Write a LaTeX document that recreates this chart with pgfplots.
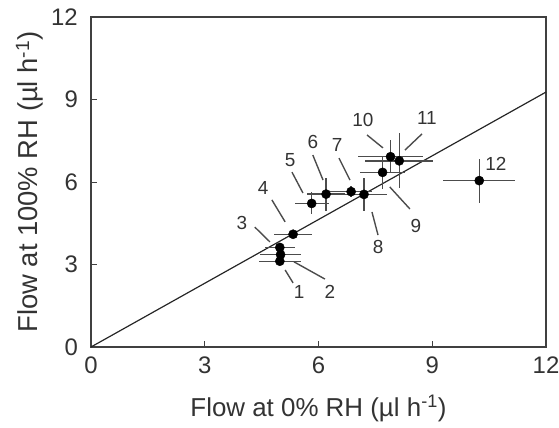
\documentclass[border=0pt]{standalone}
\usepackage{pgfplots}
\pgfplotsset{compat=1.18}
\usepackage{fontspec}
\setmainfont{Liberation Sans}

% Flow at 0% RH vs flow at 100% RH, with standard errors in both directions
\pgfplotstableread{
x     y     ex    ey
4.98  3.12  0.55  0.15
5.00  3.36  0.55  0.15
4.98  3.62  0.40  0.15
5.33  4.10  0.50  0.15
5.82  5.22  0.45  0.40
6.20  5.56  0.50  0.60
6.86  5.65  0.55  0.20
7.20  5.55  0.60  0.60
7.69  6.35  0.60  0.60
7.90  6.92  0.85  0.60
8.13  6.77  0.90  1.00
10.24 6.05  0.95  0.80
}\flowdata

\begin{document}
\begin{tikzpicture}
\begin{axis}[
  name=ax,
  scale only axis,
  width=455bp, height=330bp,
  xmin=0, xmax=12, ymin=0, ymax=12,
  xtick={0,3,...,12}, ytick={0,3,...,12},
  tick pos=left, tick align=inside,
  major tick length=6bp,
  axis line style={draw=black!75, line width=1.1pt},
  every tick/.style={draw=black!75, line width=1pt},
  /pgf/number format/assume math mode=true,
  ticklabel style={font=\fontsize{24}{28}\selectfont, text=black!80},
  xticklabel style={inner sep=0pt, anchor=north, yshift=-10bp},
  yticklabel style={inner sep=0pt, anchor=east, xshift=-13bp},
  xlabel={Flow at 0\% RH (µl h\textsuperscript{-1})},
  ylabel={Flow at 100\% RH (µl h\textsuperscript{-1})},
  xlabel style={font=\fontsize{26}{30}\selectfont, text=black!80,
    anchor=base, at={(axis description cs:0.5,0)}, yshift=-69bp},
  ylabel style={font=\fontsize{27.5}{30}\selectfont, text=black!80,
    anchor=base, at={(axis description cs:0,0.5)}, yshift=53bp},
  clip=false,
]
% regression line through the origin
\addplot[black!85, line width=1.2pt] coordinates {(0,0) (12,9.27)};

% measured points
\addplot[only marks, mark=*, mark size=4.6bp, black,
  mark options={fill=black},
  error bars/.cd,
    x dir=both, x explicit, y dir=both, y explicit,
    error mark=none,
    error bar style={black!70, line width=1.4pt}]
  table[x=x, y=y, x error=ex, y error=ey] {\flowdata};

% sample labels with leader lines
\begin{scope}[every node/.style={font=\fontsize{19}{22}\selectfont, text=black!80},
              lead/.style={black!70, line width=1.4pt}]
\draw[lead] (axis cs:5.12,2.80) -- (axis cs:5.33,2.33);
\node at (axis cs:5.49,2.00) {1};
\draw[lead] (axis cs:5.35,3.10) -- (axis cs:6.17,2.47);
\node at (axis cs:6.30,2.00) {2};
\draw[lead] (axis cs:4.32,4.36) -- (axis cs:4.72,3.82);
\node at (axis cs:3.98,4.51) {3};
\draw[lead] (axis cs:4.77,5.35) -- (axis cs:5.12,4.55);
\node at (axis cs:4.54,5.78) {4};
\draw[lead] (axis cs:5.30,6.36) -- (axis cs:5.59,5.60);
\node at (axis cs:5.25,6.80) {5};
\draw[lead] (axis cs:5.85,6.98) -- (axis cs:6.12,6.07);
\node at (axis cs:5.85,7.45) {6};
\draw[lead] (axis cs:6.54,6.87) -- (axis cs:6.83,6.07);
\node at (axis cs:6.49,7.35) {7};
\draw[lead] (axis cs:7.41,4.91) -- (axis cs:7.57,4.07);
\node at (axis cs:7.57,3.64) {8};
\draw[lead] (axis cs:7.88,5.82) -- (axis cs:8.41,5.02);
\node at (axis cs:8.57,4.40) {9};
\draw[lead] (axis cs:7.28,7.71) -- (axis cs:7.70,7.24);
\node at (axis cs:7.17,8.25) {10};
\draw[lead] (axis cs:8.73,7.75) -- (axis cs:8.28,7.16);
\node at (axis cs:8.86,8.33) {11};
\node at (axis cs:10.68,6.65) {12};
\end{scope}
\end{axis}
\pgfresetboundingbox
\path[use as bounding box] ([shift={(-91bp,-81bp)}]ax.south west) rectangle ([shift={(13bp,17bp)}]ax.north east);
\end{tikzpicture}
\end{document}
